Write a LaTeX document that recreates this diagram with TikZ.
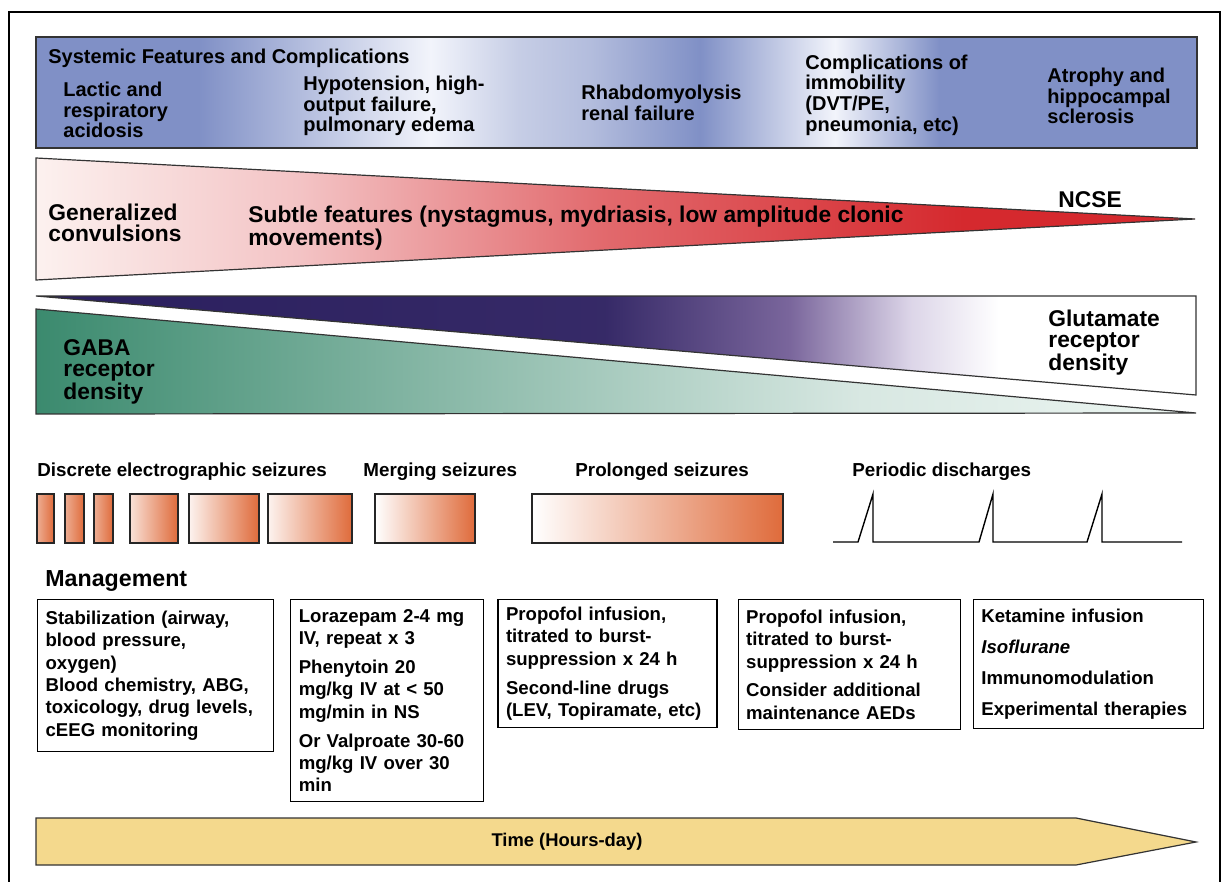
\documentclass[tikz,border=0pt]{standalone}
\usepackage{fontspec}
\setmainfont{Liberation Sans}
\usetikzlibrary{shapes,arrows,positioning}

\definecolor{bandblue}{HTML}{8090C6}
\definecolor{bandlight}{HTML}{F2F4FB}
\definecolor{ncsered}{HTML}{D5292E}
\definecolor{ncsepale}{HTML}{FCF1EF}
\definecolor{glunavy}{HTML}{2A1F5E}
\definecolor{glumid}{HTML}{7A669C}
\definecolor{glulight}{HTML}{DCD5E8}
\definecolor{gabagreen}{HTML}{3B8A6E}
\definecolor{gabapale}{HTML}{EDF6F2}
\definecolor{seizorange}{HTML}{DF6B3B}
\definecolor{timeyellow}{HTML}{F4D98D}

\pgfdeclarehorizontalshading{bandshade}{100bp}{color(0bp)=(bandblue); color(32bp)=(bandblue); color(42bp)=(bandlight); color(45.8bp)=(bandblue!45!white); color(48.9bp)=(bandblue!60!white); color(53.6bp)=(bandblue); color(59.4bp)=(bandlight); color(63.9bp)=(bandblue); color(100bp)=(bandblue)}
\pgfdeclarehorizontalshading{ncseshade}{100bp}{color(0bp)=(ncsepale); color(25bp)=(ncsepale); color(36.4bp)=(ncsered!28!white); color(49.5bp)=(ncsered!70!white); color(65bp)=(ncsered); color(100bp)=(ncsered)}
\pgfdeclarehorizontalshading{glushade}{100bp}{color(0bp)=(glunavy); color(25bp)=(glunavy); color(49.5bp)=(glunavy!85!glumid); color(57.5bp)=(glumid); color(62.7bp)=(glulight); color(66.5bp)=(white); color(100bp)=(white)}
\pgfdeclarehorizontalshading{gabashade}{100bp}{color(0bp)=(gabagreen); color(25bp)=(gabagreen); color(42.8bp)=(gabagreen!60!white); color(60.5bp)=(gabagreen!20!white); color(75bp)=(gabapale); color(100bp)=(gabapale)}

\begin{document}
\begin{tikzpicture}[x=0.5pt, y=-0.5pt, node distance = 8pt, auto]
            % Estilos
            \tikzstyle{sysfeat} = [font=\bfseries\fontsize{10}{10.3}\selectfont, align=left, anchor=west, inner sep=0pt]
            \tikzstyle{wedgetext} = [font=\bfseries\fontsize{11.4}{10.4}\selectfont, align=left, anchor=west, inner sep=0pt]
            \tikzstyle{phase} = [font=\bfseries\fontsize{9.4}{11}\selectfont, anchor=west, inner sep=0pt]
            \tikzstyle{seizure} = [draw=black!85, line width=0.6pt, left color=seizorange!8!white, right color=seizorange]
            \tikzstyle{mgmtbox} = [rectangle, draw, line width=0.6pt, anchor=north west, inner xsep=4pt,
            align=left, font=\bfseries\fontsize{9.3}{11.2}\selectfont]

            \useasboundingbox (0,0) rectangle (1225,882);
            \draw[line width=1pt] (9,882) -- (9,12) -- (1220,12) -- (1220,882);

            % Complicaciones sistemicas
            \shadedraw[shading=bandshade, draw=black!80, line width=0.6pt] (36,37) rectangle (1197,148);
            \node [sysfeat] (systemic) at (48,58) {Systemic Features and Complications};
            \node [sysfeat] (acidosis) at (63,110) {Lactic and\\respiratory\\acidosis};
            \node [sysfeat] (hypotension) at (303,106) {Hypotension, high-\\output failure,\\pulmonary edema};
            \node [sysfeat] (rhabdo) at (581,103) {Rhabdomyolysis\\renal failure};
            \node [sysfeat] (immobility) at (805,95) {Complications of\\immobility\\(DVT/PE,\\pneumonia, etc)};
            \node [sysfeat] (atrophy) at (1047,96) {Atrophy and\\hippocampal\\sclerosis};

            % Cunas
            \shadedraw[shading=ncseshade, draw=black!80, line width=0.6pt] (36,158) -- (1195,219) -- (36,280) -- cycle;
            \node [wedgetext] (generalized) at (48,223) {Generalized\\convulsions};
            \node [wedgetext] (subtle) at (248,228) {Subtle features (nystagmus, mydriasis, low amplitude clonic\\movements)};
            \node [wedgetext] (ncse) at (1058,200) {NCSE};

            \shadedraw[shading=glushade, draw=black!80, line width=0.6pt] (36,296) -- (1196,296) -- (1196,395) -- cycle;
            \shadedraw[shading=gabashade, draw=black!80, line width=0.6pt] (36,309) -- (1196,413) -- (36,414) -- cycle;
            \node [wedgetext] (gaba) at (63,372) {GABA\\receptor\\density};
            \node [wedgetext] (glutamate) at (1048,343) {Glutamate\\receptor\\density};

            % Crisis
            \node [phase] (discrete) at (37,472) {Discrete electrographic seizures};
            \node [phase] (merging) at (363,472) {Merging seizures};
            \node [phase] (prolonged) at (575,472) {Prolonged seizures};
            \node [phase] (periodic) at (852,472) {Periodic discharges};

            \draw [seizure, left color=seizorange!55!white] (37,494) rectangle (54,543);
            \draw [seizure, left color=seizorange!55!white] (65,494) rectangle (84,543);
            \draw [seizure, left color=seizorange!55!white] (94,494) rectangle (113,543);
            \draw [seizure, left color=seizorange!20!white] (130,494) rectangle (178,543);
            \draw [seizure] (189,494) rectangle (259,543);
            \draw [seizure] (268,494) rectangle (352,543);
            \draw [seizure, left color=white] (375,494) rectangle (475,543);
            \draw [seizure, left color=white] (532,494) rectangle (783,543);
            \draw [line width=0.7pt] (833,542) -- (858,542) -- (873,494) -- (873,542) -- (979,542) -- (993,494)
            -- (993,542) -- (1087,542) -- (1102,494) -- (1102,542) -- (1182,542);

            % Manejo
            \node [font=\bfseries\fontsize{11.6}{13}\selectfont, anchor=west, inner sep=0pt] (management) at (45,581) {Management};

            \node [mgmtbox, text width=110pt, minimum height=76pt] (stab) at (37,599)
            {Stabilization (airway,\\blood pressure,\\oxygen)\\Blood chemistry, ABG,\\toxicology, drug levels,\\cEEG monitoring};
            \node [mgmtbox, text width=88.5pt, minimum height=101pt, right = of stab.north east, anchor=north west] (firstline)
            {Lorazepam 2-4 mg\\IV, repeat x 3\\[3.2pt]Phenytoin 20\\mg/kg IV at < 50\\mg/min in NS\\[3.2pt]Or Valproate 30-60\\mg/kg IV over 30\\min};
            \node [mgmtbox, text width=101.5pt, minimum height=64pt, right = 6.5pt of firstline.north east, anchor=north west] (secondline)
            {Propofol infusion,\\titrated to burst-\\suppression x 24 h\\[3.2pt]Second-line drugs\\(LEV, Topiramate, etc)};
            \node [mgmtbox, text width=103pt, minimum height=65pt, right = 10pt of secondline.north east, anchor=north west] (thirdline)
            {Propofol infusion,\\titrated to burst-\\suppression x 24 h\\[3.2pt]Consider additional\\maintenance AEDs};
            \node [mgmtbox, text width=107pt, minimum height=64.5pt, right = 6pt of thirdline.north east, anchor=north west] (refractory)
            {Ketamine infusion\\[4.3pt]{\itshape Isoflurane}\\[4.3pt]Immunomodulation\\[4.3pt]Experimental therapies};

            % Tiempo
            \draw [fill=timeyellow, draw=black!80, line width=0.6pt] (36,818) -- (1076,818) -- (1196,842) -- (1076,865) -- (36,865) -- cycle;
            \node [font=\bfseries\fontsize{9.2}{11}\selectfont, inner sep=0pt] (time) at (567,842) {Time (Hours-day)};
      \end{tikzpicture}
\end{document}
